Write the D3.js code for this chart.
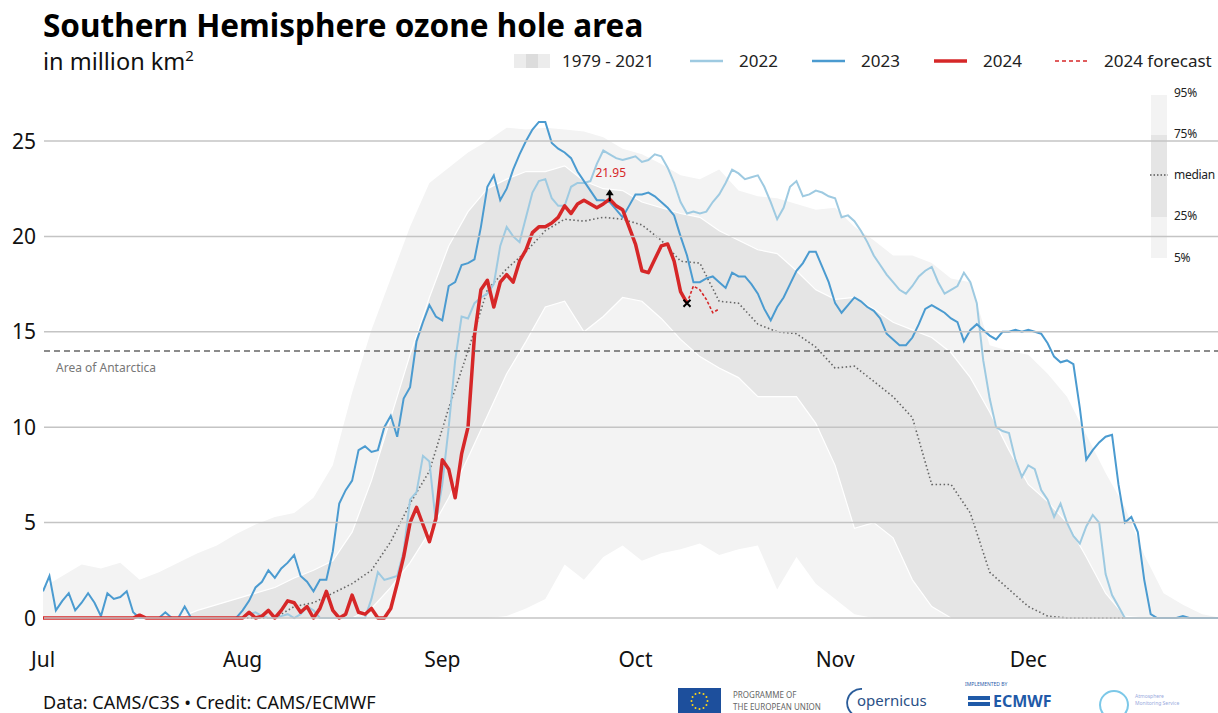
<!DOCTYPE html>
<html>
<head>
<meta charset="utf-8">
<script src="https://cdn.jsdelivr.net/npm/d3@7"></script>
<style>
  body { margin: 0; background: #fff; }
  svg { display: block; font-family: "Noto Sans", "Open Sans", sans-serif; }
</style>
</head>
<body>
<div id="chart"></div>
<script>
// ---- data (million km2), day 0 = 1 July ----
var monthLabels = ["Jul", "Aug", "Sep", "Oct", "Nov", "Dec"];
var yTicks = [0, 5, 10, 15, 20, 25];
var antarcticaArea = 14;

// daily values from 1 July
var area2022 = [
  0, 0, 0, 0, 0, 0, 0, 0, 0, 0,
  0, 0, 0, 0, 0, 0, 0, 0, 0, 0,
  0, 0, 0, 0, 0, 0, 0, 0, 0, 0,
  0, 0, 0.2, 0.3, 0.1, 0, 0, 0.1, 0.2, 0,
  0.2, 0.6, 0.4, 0, 0, 0, 0, 0, 0, 0,
  0, 1.0, 2.4, 2.0, 2.1, 2.2, 3.5, 6.2, 6.6, 8.5,
  8.2, 5.0, 7.0, 10.0, 13.5, 15.8, 15.7, 16.5, 16.8, 17.0,
  17.5, 19.5, 20.5, 20.0, 19.7, 21.0, 22.3, 22.9, 23.0, 22.0,
  21.6, 21.6, 22.6, 22.8, 22.8, 22.9, 23.8, 24.5, 24.3, 24.1,
  24.0, 24.1, 24.2, 23.9, 24.0, 24.3, 24.2, 23.6, 22.8, 21.8,
  21.2, 21.3, 21.2, 21.3, 21.8, 22.2, 22.8, 23.5, 23.3, 23.0,
  23.1, 23.2, 22.6, 21.8, 20.9, 21.5, 22.6, 22.9, 22.1, 22.2,
  22.4, 22.3, 22.1, 22.0, 21.0, 21.1, 20.8, 20.3, 19.7, 19.0,
  18.5, 18.0, 17.6, 17.2, 17.0, 17.4, 17.9, 18.2, 18.4, 17.6,
  17.0, 17.2, 17.4, 18.1, 17.6, 16.5, 13.5, 11.5, 10.0, 9.8,
  9.7, 8.3, 7.4, 8.0, 7.8, 6.7, 6.2, 5.3, 6.0, 5.0,
  4.3, 3.9, 4.8, 5.4, 5.0, 2.3, 1.2, 0.6, 0, 0,
  0, 0, 0, 0, 0, 0, 0, 0, 0, 0,
  0, 0, 0, 0
];
var area2023 = [
  1.4, 2.2, 0.4, 0.9, 1.3, 0.4, 0.8, 1.3, 0.8, 0.1,
  1.3, 1.0, 1.1, 1.4, 0.3, 0, 0, 0, 0, 0.3,
  0, 0, 0.6, 0, 0, 0, 0, 0, 0, 0,
  0, 0.4, 0.9, 1.6, 1.9, 2.5, 2.1, 2.6, 2.9, 3.3,
  2.2, 1.9, 1.4, 2.0, 2.0, 3.5, 6.0, 6.7, 7.2, 8.8,
  9.0, 8.7, 8.8, 10.0, 10.6, 9.5, 11.5, 12.1, 14.5, 15.5,
  16.4, 15.8, 15.6, 17.4, 17.6, 18.5, 18.6, 18.8, 20.5, 22.6,
  23.2, 21.9, 22.5, 23.5, 24.3, 25.0, 25.6, 26.0, 26.0, 24.9,
  24.6, 24.4, 24.1, 23.4, 22.9, 22.4, 21.9, 21.9, 21.8, 21.4,
  21.0, 21.6, 22.2, 22.2, 22.3, 22.1, 21.8, 21.5, 21.1, 20.0,
  19.0, 17.6, 17.6, 17.8, 17.9, 17.6, 17.3, 18.1, 17.9, 17.9,
  17.5, 17.0, 16.2, 15.6, 16.3, 16.8, 17.5, 18.2, 18.6, 19.2,
  19.2, 18.4, 17.6, 16.5, 16.0, 16.4, 16.8, 16.6, 16.3, 16.1,
  15.7, 14.9, 14.6, 14.3, 14.3, 14.7, 15.4, 16.2, 16.4, 16.2,
  16.0, 15.7, 15.5, 14.5, 15.1, 15.4, 15.1, 14.8, 14.6, 15.0,
  15.0, 15.1, 15.0, 15.1, 15.0, 14.9, 14.4, 13.7, 13.4, 13.5,
  13.3, 11.0, 8.3, 8.8, 9.2, 9.5, 9.6, 7.0, 5.0, 5.3,
  4.5, 2.0, 0.2, 0, 0, 0, 0, 0.1, 0, 0,
  0, 0, 0, 0
];
var area2024 = [
  0, 0, 0, 0, 0, 0, 0, 0, 0, 0,
  0, 0, 0, 0, 0, 0.15, 0, 0, 0, 0,
  0, 0, 0, 0, 0, 0, 0, 0, 0, 0,
  0, 0, 0.3, 0, 0.1, 0.4, 0, 0.4, 0.9, 0.8,
  0.3, 0.6, 0, 0.5, 1.4, 0.4, 0, 0.2, 1.2, 0.3,
  0.2, 0.5, 0, 0, 0.5, 1.8, 3.2, 5.0, 5.8, 4.9,
  4.0, 5.2, 8.3, 7.8, 6.3, 8.6, 10.0, 14.8, 17.2, 17.7,
  16.3, 17.6, 18.0, 17.6, 18.7, 19.3, 20.2, 20.5, 20.5, 20.7,
  21.0, 21.6, 21.2, 21.7, 21.9, 21.7, 21.5, 21.7, 21.95, 21.6,
  21.4, 20.5, 19.6, 18.2, 18.1, 18.8, 19.5, 19.6, 18.7, 17.1,
  16.5
];
var forecastDays = [100, 101, 102, 103, 104, 105];
var forecast2024 = [16.5, 17.4, 17.2, 16.7, 16.0, 16.2];

// 1979-2021 statistics, every third day from 1 July
var bandDays = d3.range(0, 184, 3);
var p95 = [
  1.6, 2.2, 2.8, 2.6, 2.9, 2.0, 2.4, 2.9, 3.4, 3.8,
  4.4, 4.9, 5.3, 5.5, 6.3, 8.0, 11.8, 15.1, 17.8, 20.5,
  22.8, 23.6, 24.4, 25.0, 25.7, 25.6, 25.7, 25.6, 25.5, 25.2,
  24.6, 24.3, 23.8, 23.2, 23.0, 23.5, 22.4, 22.1, 22.0, 21.7,
  21.4, 21.5, 20.5, 19.8, 19.0, 19.0, 18.6, 17.8, 17.6, 14.3,
  14.0, 13.8, 12.8, 11.6, 9.6, 7.6, 5.8, 3.3, 1.3, 0.7,
  0.2, 0
];
var p75 = [
  0, 0, 0, 0, 0, 0, 0, 0, 0.4, 0.7,
  1.0, 1.3, 1.6, 2.1, 2.5, 3.0, 4.5, 7.2, 10.5, 13.8,
  16.8, 19.5, 21.3, 22.5, 23.0, 23.4, 23.4, 23.7, 22.9, 22.5,
  22.4, 21.8, 21.5, 21.2, 21.0, 20.3, 19.8, 19.3, 19.1, 18.2,
  17.2, 16.7, 16.8, 16.2, 15.5, 15.1, 14.7, 13.9, 12.6, 10.8,
  8.8, 7.0, 6.1, 5.0, 3.2, 1.3, 0.1, 0, 0, 0,
  0, 0
];
var median = [
  0, 0, 0, 0, 0, 0, 0, 0, 0, 0,
  0, 0, 0, 0.6, 0.8, 1.3, 1.8, 2.5, 4.0, 6.0,
  7.7, 11.0, 14.0, 17.2, 18.3, 19.2, 20.3, 20.9, 20.8, 21.0,
  20.9, 20.6, 19.8, 18.7, 18.6, 16.6, 16.5, 15.4, 15.0, 14.9,
  14.2, 13.1, 13.2, 12.4, 11.6, 10.5, 7.0, 7.0, 5.5, 2.4,
  1.5, 0.6, 0.1, 0, 0, 0, 0, 0, 0, 0,
  0, 0
];
var p25 = [
  0, 0, 0, 0, 0, 0, 0, 0, 0, 0,
  0, 0, 0, 0, 0, 0, 0, 0.5, 1.6, 2.9,
  4.5, 6.3, 8.4, 10.6, 12.8, 14.5, 16.3, 16.6, 15.0, 15.8,
  16.8, 16.6, 15.7, 14.6, 13.7, 13.1, 12.6, 11.6, 11.6, 11.6,
  10.2, 8.0, 4.7, 5.0, 4.2, 2.0, 0.6, 0, 0, 0,
  0, 0, 0, 0, 0, 0, 0, 0, 0, 0,
  0, 0
];
var p5 = [
  0, 0, 0, 0, 0, 0, 0, 0, 0, 0,
  0, 0, 0, 0, 0, 0, 0, 0, 0, 0,
  0, 0, 0, 0, 0.1, 0.5, 1.0, 2.8, 2.0, 3.2,
  3.8, 3.0, 3.4, 3.6, 3.9, 3.3, 3.6, 3.8, 1.5, 3.2,
  1.8, 1.0, 0.2, 0, 0, 0, 0, 0, 0, 0,
  0, 0, 0, 0, 0, 0, 0, 0, 0, 0,
  0, 0
];

var peakLabel = "21.95";

// ---- layout ----
var width = 1218, height = 713;
var plotLeft = 43, plotRight = 1218;

function dayDate(d) { return new Date(Date.UTC(2024, 6, 1 + d)); }

var x = d3.scaleUtc()
    .domain([dayDate(0), dayDate(183)])
    .range([plotLeft, plotLeft + 183 * 6.44]);
var y = d3.scaleLinear().domain([0, 25]).range([618, 141]);

var svg = d3.select("#chart").append("svg")
    .attr("width", width).attr("height", height);

svg.append("defs").append("clipPath").attr("id", "plotclip")
    .append("rect").attr("x", plotLeft).attr("y", 60)
    .attr("width", plotRight - plotLeft).attr("height", 565);

var plot = svg.append("g").attr("clip-path", "url(#plotclip)");

var bandRows = bandDays.map(function(d, i) {
    return { date: dayDate(d), p5: p5[i], p25: p25[i], p50: median[i], p75: p75[i], p95: p95[i] };
});

var outerArea = d3.area()
    .x(function(d) { return x(d.date); })
    .y0(function(d) { return y(d.p5); })
    .y1(function(d) { return y(d.p95); });
var innerArea = d3.area()
    .x(function(d) { return x(d.date); })
    .y0(function(d) { return y(d.p25); })
    .y1(function(d) { return y(d.p75); });

plot.append("path").datum(bandRows).attr("d", outerArea).attr("fill", "#f3f3f3");
plot.append("path").datum(bandRows).attr("d", innerArea).attr("fill", "#e5e5e5");

// white edges of the inner band
["p25", "p75"].forEach(function(k) {
    plot.append("path").datum(bandRows)
        .attr("d", d3.line().x(function(d) { return x(d.date); }).y(function(d) { return y(d[k]); }))
        .attr("fill", "none").attr("stroke", "#fff").attr("stroke-width", 1.2);
});

// band legend (right)
var bl = svg.append("g");
bl.append("rect").attr("x", 1151).attr("y", 95).attr("width", 16).attr("height", 40).attr("fill", "#f3f3f3");
bl.append("rect").attr("x", 1151).attr("y", 135).attr("width", 16).attr("height", 82).attr("fill", "#e5e5e5");
bl.append("rect").attr("x", 1151).attr("y", 217).attr("width", 16).attr("height", 41).attr("fill", "#f3f3f3");
bl.append("line").attr("x1", 1150).attr("x2", 1168).attr("y1", 175).attr("y2", 175)
    .attr("stroke", "#555").attr("stroke-width", 1.5).attr("stroke-dasharray", "1.5,2");
[["95%", 97], ["75%", 138], ["median", 179], ["25%", 220], ["5%", 262]].forEach(function(t) {
    bl.append("text").attr("x", 1174).attr("y", t[1]).text(t[0])
        .attr("font-size", 12).attr("letter-spacing", -0.3).attr("fill", "#222");
});

// gridlines and y labels
svg.append("g").selectAll("line").data(yTicks).enter().append("line")
    .attr("x1", 44).attr("x2", plotRight)
    .attr("y1", function(d) { return y(d); }).attr("y2", function(d) { return y(d); })
    .attr("stroke", "#c4c4c4").attr("stroke-width", 1.5);
svg.append("g").selectAll("text").data(yTicks).enter().append("text")
    .attr("x", 36).attr("y", function(d) { return y(d); }).attr("dy", "0.36em")
    .attr("text-anchor", "end").attr("font-size", 21).attr("fill", "#111")
    .text(function(d) { return d; });

// x axis month labels
var monthStarts = d3.utcMonths(dayDate(0), dayDate(184));
svg.append("g").selectAll("text").data(monthStarts).enter().append("text")
    .attr("x", function(d) { return x(d); }).attr("y", 667)
    .attr("text-anchor", "middle").attr("font-size", 21).attr("fill", "#111")
    .text(function(d, i) { return monthLabels[i]; });

// area of Antarctica
svg.append("line").attr("x1", 44).attr("x2", plotRight)
    .attr("y1", y(antarcticaArea)).attr("y2", y(antarcticaArea))
    .attr("stroke", "#666").attr("stroke-width", 1.5).attr("stroke-dasharray", "6,4");
svg.append("text").attr("x", 56).attr("y", y(antarcticaArea) + 21)
    .attr("font-size", 12).attr("fill", "#777").text("Area of Antarctica");

// lines
var dayLine = d3.line()
    .x(function(d, i) { return x(dayDate(i)); })
    .y(function(d) { return y(d); });

plot.append("path").datum(bandRows)
    .attr("d", d3.line().x(function(d) { return x(d.date); }).y(function(d) { return y(d.p50); }))
    .attr("fill", "none").attr("stroke", "#666").attr("stroke-width", 1.6)
    .attr("stroke-dasharray", "1.5,2.5");

plot.append("path").datum(area2022).attr("d", dayLine)
    .attr("fill", "none").attr("stroke", "#9ecae1").attr("stroke-width", 2);
plot.append("path").datum(area2023).attr("d", dayLine)
    .attr("fill", "none").attr("stroke", "#4b9bd0").attr("stroke-width", 2);
plot.append("path").datum(area2024).attr("d", dayLine)
    .attr("fill", "none").attr("stroke", "#d62728").attr("stroke-width", 3.5)
    .attr("stroke-linejoin", "round");

plot.append("path").datum(forecast2024)
    .attr("d", d3.line().x(function(d, i) { return x(dayDate(forecastDays[i])); }).y(function(d) { return y(d); }))
    .attr("fill", "none").attr("stroke", "#d62728").attr("stroke-width", 1.6)
    .attr("stroke-dasharray", "3,2");

// last observation marker
var lastI = area2024.length - 1;
var lx = x(dayDate(lastI)), ly = y(area2024[lastI]);
svg.append("path").attr("d", "M" + (lx - 3.5) + "," + (ly - 3.5) + "L" + (lx + 3.5) + "," + (ly + 3.5) +
    "M" + (lx - 3.5) + "," + (ly + 3.5) + "L" + (lx + 3.5) + "," + (ly - 3.5))
    .attr("stroke", "#000").attr("stroke-width", 2);

// peak arrow
var peakI = d3.maxIndex(area2024);
var px = x(dayDate(peakI)), py = y(area2024[peakI]);
svg.append("line").attr("x1", px).attr("x2", px).attr("y1", py + 2).attr("y2", py - 5)
    .attr("stroke", "#000").attr("stroke-width", 2);
svg.append("path").attr("d", "M" + (px - 4) + "," + (py - 4) + "L" + px + "," + (py - 10) + "L" + (px + 4) + "," + (py - 4) + "Z")
    .attr("fill", "#000");
svg.append("text").attr("x", px + 1).attr("y", py - 22).attr("text-anchor", "middle")
    .attr("font-size", 12).attr("fill", "#d62728").text(peakLabel);

// titles
svg.append("text").attr("x", 43).attr("y", 37).attr("font-size", 31.5).attr("font-weight", 700)
    .attr("fill", "#000").text("Southern Hemisphere ozone hole area");
var sub = svg.append("text").attr("x", 43).attr("y", 70).attr("font-size", 23.5).attr("fill", "#111");
sub.append("tspan").text("in million km");
sub.append("tspan").attr("dy", -9).attr("font-size", 15).text("2");

// top legend
var lg = svg.append("g").attr("font-size", 17).attr("fill", "#222");
lg.append("rect").attr("x", 514).attr("y", 54).attr("width", 12).attr("height", 14).attr("fill", "#ececec");
lg.append("rect").attr("x", 526).attr("y", 54).attr("width", 12).attr("height", 14).attr("fill", "#dcdcdc");
lg.append("rect").attr("x", 538).attr("y", 54).attr("width", 12).attr("height", 14).attr("fill", "#ececec");
lg.append("text").attr("x", 562).attr("y", 67).text("1979 - 2021");
var legendLines = [
    { x: 690, label: "2022", color: "#9ecae1", w: 2.5, dash: null },
    { x: 812, label: "2023", color: "#4b9bd0", w: 2.5, dash: null },
    { x: 934, label: "2024", color: "#d62728", w: 3.5, dash: null },
    { x: 1055, label: "2024 forecast", color: "#d62728", w: 1.5, dash: "4,3" }
];
legendLines.forEach(function(l) {
    lg.append("line").attr("x1", l.x).attr("x2", l.x + 33).attr("y1", 61).attr("y2", 61)
        .attr("stroke", l.color).attr("stroke-width", l.w).attr("stroke-dasharray", l.dash);
    lg.append("text").attr("x", l.x + 49).attr("y", 67).text(l.label);
});

// footer
svg.append("text").attr("x", 43).attr("y", 709).attr("font-size", 18).attr("fill", "#111")
    .text("Data: CAMS/C3S \u2022 Credit: CAMS/ECMWF");

// logos (simplified)
var lo = svg.append("g");
lo.append("rect").attr("x", 678).attr("y", 688).attr("width", 43).attr("height", 28).attr("fill", "#1d4f9c");
d3.range(12).forEach(function(k) {
    var a = k / 12 * 2 * Math.PI;
    lo.append("circle").attr("cx", 699.5 + 8 * Math.cos(a)).attr("cy", 701 + 8 * Math.sin(a))
        .attr("r", 1).attr("fill", "#ffd617");
});
lo.append("text").attr("x", 733).attr("y", 698).attr("font-size", 8).attr("fill", "#666").text("PROGRAMME OF");
lo.append("text").attr("x", 733).attr("y", 710).attr("font-size", 8).attr("fill", "#666").text("THE EUROPEAN UNION");
lo.append("path").attr("d", "M862,689 A14,14 0 0 0 856,716").attr("fill", "none")
    .attr("stroke", "#2a5c9a").attr("stroke-width", 1.8);
lo.append("text").attr("x", 857).attr("y", 706).attr("font-size", 15).attr("fill", "#2a4f86").text("opernicus");
lo.append("text").attr("x", 965).attr("y", 686).attr("font-size", 5).attr("fill", "#2a5caa").text("IMPLEMENTED BY");
lo.append("path").attr("d", "M968,698 h22 M968,704 h22").attr("stroke", "#1f5aa8").attr("stroke-width", 4);
lo.append("text").attr("x", 993).attr("y", 707).attr("font-size", 16).attr("font-weight", 700)
    .attr("fill", "#1f5aa8").text("ECMWF");
lo.append("circle").attr("cx", 1114).attr("cy", 705).attr("r", 14).attr("fill", "none")
    .attr("stroke", "#7cc8e8").attr("stroke-width", 2);
lo.append("text").attr("x", 1135).attr("y", 698).attr("font-size", 5).attr("fill", "#9ad").text("Atmosphere");
lo.append("text").attr("x", 1135).attr("y", 705).attr("font-size", 5).attr("fill", "#9ad").text("Monitoring Service");
</script>
</body>
</html>
